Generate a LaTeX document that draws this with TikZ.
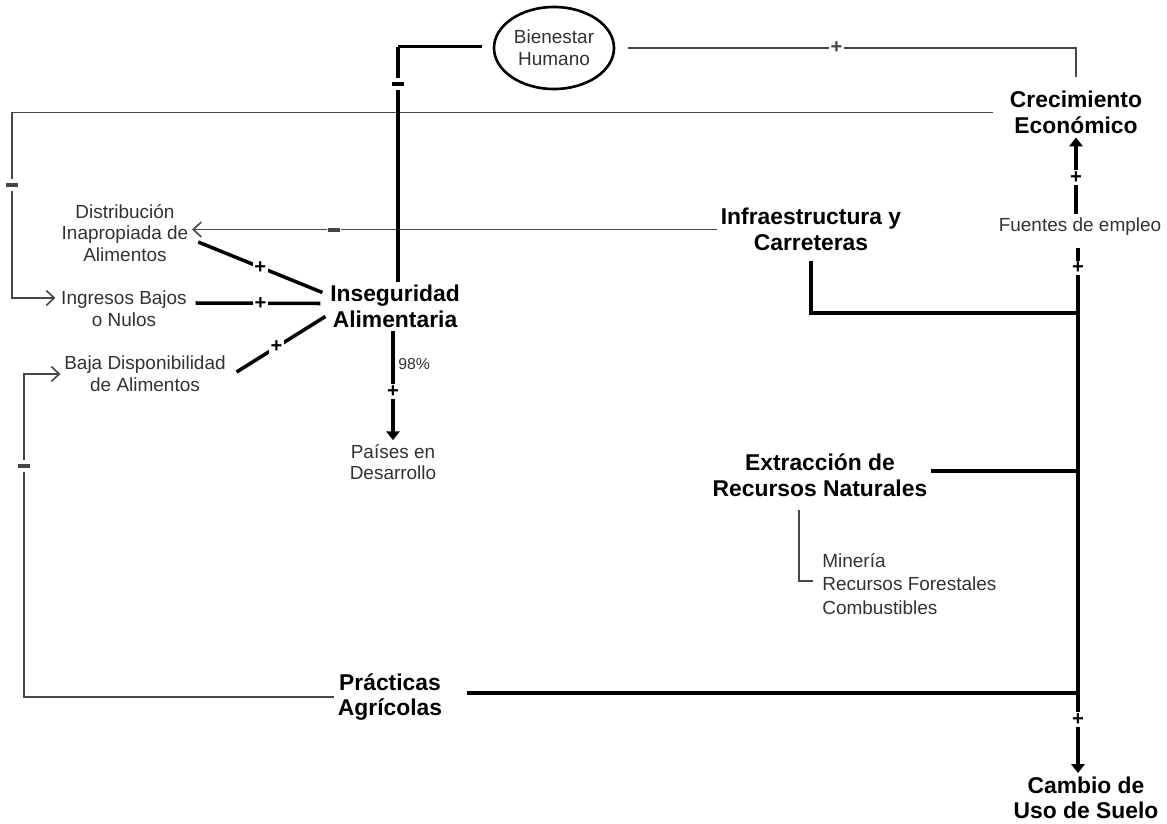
\documentclass[tikz,border=0pt]{standalone}
\usepackage{fontspec}
\setmainfont{Liberation Sans}
\usetikzlibrary{arrows.meta,shapes.geometric}
\definecolor{inkgray}{RGB}{50, 50, 50}
\definecolor{linegray}{RGB}{70, 70, 70}
\tikzset{
    note/.style      = {font=\fontsize{10.8}{12.4}\selectfont, text=inkgray, align=center, inner sep=2pt},
    factor/.style    = {font=\bfseries\fontsize{13}{14.5}\selectfont, align=center, inner sep=2pt},
    heavy/.style     = {line width=2pt, black},
    fine/.style      = {line width=0.9pt, linegray},
    heavyarrow/.style= {heavy, -{Triangle[length=5pt, width=7.5pt]}},
    openarrow/.style = {fine, -{Straight Barb[length=4.5pt, width=8.5pt]}},
    plusmark/.style  = {fill=white, inner sep=0.8pt, font=\bfseries\fontsize{11.5}{11.5}\selectfont},
    minusmark/.style = {fill=white, inner xsep=0.5pt, inner ysep=0.08cm},
}
\newcommand{\minusbar}{\rule{0.24cm}{0.08cm}}

\begin{document}
\begin{tikzpicture}
            \useasboundingbox (0.00, 0.00) rectangle (23.34,-16.48);
            \node[note, ellipse, draw=black, line width=1.5pt, minimum width=2.40cm, minimum height=1.64cm, inner sep=0pt,
                  font=\fontsize{10.8}{12.5}\selectfont] (bienestar)   at (11.08,-0.96) {Bienestar\\Humano};
            \node[factor] (crecimiento) at (21.52,-2.25) {Crecimiento\\Económico};
            \node[factor] (infra)       at (16.22,-4.59) {Infraestructura y\\Carreteras};
            \node[note]   (fuentes)     at (21.60,-4.54) {Fuentes de empleo};
            \node[factor] (insegur)     at ( 7.90,-6.13) {Inseguridad\\Alimentaria};
            \node[note]   (distrib)     at ( 2.50,-4.66) {Distribución\\Inapropiada de\\Alimentos};
            \node[note]   (ingresos)    at ( 2.48,-6.18) {Ingresos Bajos\\o Nulos};
            \node[note]   (baja)        at ( 2.90,-7.48) {Baja Disponibilidad\\de Alimentos};
            \node[note]   (paises)      at ( 7.86,-9.24) {Países en\\Desarrollo};
            \node[factor] (extraccion)  at (16.40,-9.50) {Extracción de\\Recursos Naturales};
            \node[note, align=left, anchor=west, inner sep=0pt,
                  font=\fontsize{10.8}{13.6}\selectfont] (mineria) at (16.44,-11.68) {Minería\\Recursos Forestales\\Combustibles};
            \node[factor] (practicas)   at ( 7.80,-13.94) {Prácticas\\Agrícolas};
            \node[factor] (cambio)      at (21.72,-15.96) {Cambio de\\Uso de Suelo};

            \coordinate (bienTurn)  at ( 7.96,-0.93);
            \coordinate (crecTurn)  at ( 0.24,-2.25);
            \coordinate (practTurn) at ( 0.48,-13.94);
            \coordinate (jInfra)    at (21.56,-6.26);
            \coordinate (jExtr)     at (21.56,-9.42);
            \coordinate (jPract)    at (21.56,-13.86);

            \draw[fine, shorten <=0.26cm, shorten >=0.22cm] (bienestar.east) -| node[plusmark, pos=0.24] {+} (crecimiento.north);
            \draw[openarrow, shorten <=0.26cm] (crecimiento.west) -- (crecTurn)
                 |- node[minusmark, pos=0.195] {\minusbar} ([shift={(-0.04,0.22)}]ingresos.west);
            \draw[openarrow] (infra.west) -- node[minusmark, pos=0.73] {\minusbar} (infra.west -| distrib.east);
            \draw[openarrow] (practicas.west) -- (practTurn) |- node[minusmark, pos=0.357] {\minusbar} (baja.west);
            \draw[fine, shorten <=0.20cm, shorten >=0.18cm] ([xshift=-0.42cm]extraccion.south) |- ([yshift=0.06cm]mineria.west);

            \draw[heavy] (insegur.north -| bienTurn) -- node[minusmark, pos=0.84] {\minusbar} (bienTurn);
            \draw[heavy, shorten >=0.22cm] (bienTurn) -- (bienTurn -| bienestar.west);
            \draw[heavy] ([shift={(0.12,-0.18)}]distrib.east)  -- node[plusmark]           {+} ([shift={(-0.08, 0.28)}]insegur.west);
            \draw[heavy] ([shift={(0.10, 0.12)}]ingresos.east) -- node[plusmark, pos=0.52] {+} ([shift={(-0.12, 0.06)}]insegur.west);
            \draw[heavy] ([shift={(0.14, 0.04)}]baja.east)     -- node[plusmark, pos=0.45] {+} ([shift={(-0.02,-0.20)}]insegur.west);
            \draw[heavyarrow] (insegur.south -| paises.north) -- node[plusmark, pos=0.55] {+}
                 node[note, pos=0.3, right, font=\fontsize{9}{9}\selectfont] {98\%} (paises.north);
            \draw[heavyarrow] (fuentes.north -| crecimiento.south) -- node[plusmark, pos=0.48] {+} (crecimiento.south);
            \draw[heavyarrow, shorten <=0.16cm] (fuentes.south -| jInfra) -- node[plusmark, pos=0.053] {+}
                 node[plusmark, pos=0.90] {+} (cambio.north -| jInfra);
            \draw[heavy, shorten <=0.14cm] (infra.south) |- (jInfra);
            \draw[heavy] (extraccion.east |- jExtr) -- (jExtr);
            \draw[heavy, shorten <=0.42cm] (practicas.east |- jPract) -- (jPract);
        \end{tikzpicture}
\end{document}
